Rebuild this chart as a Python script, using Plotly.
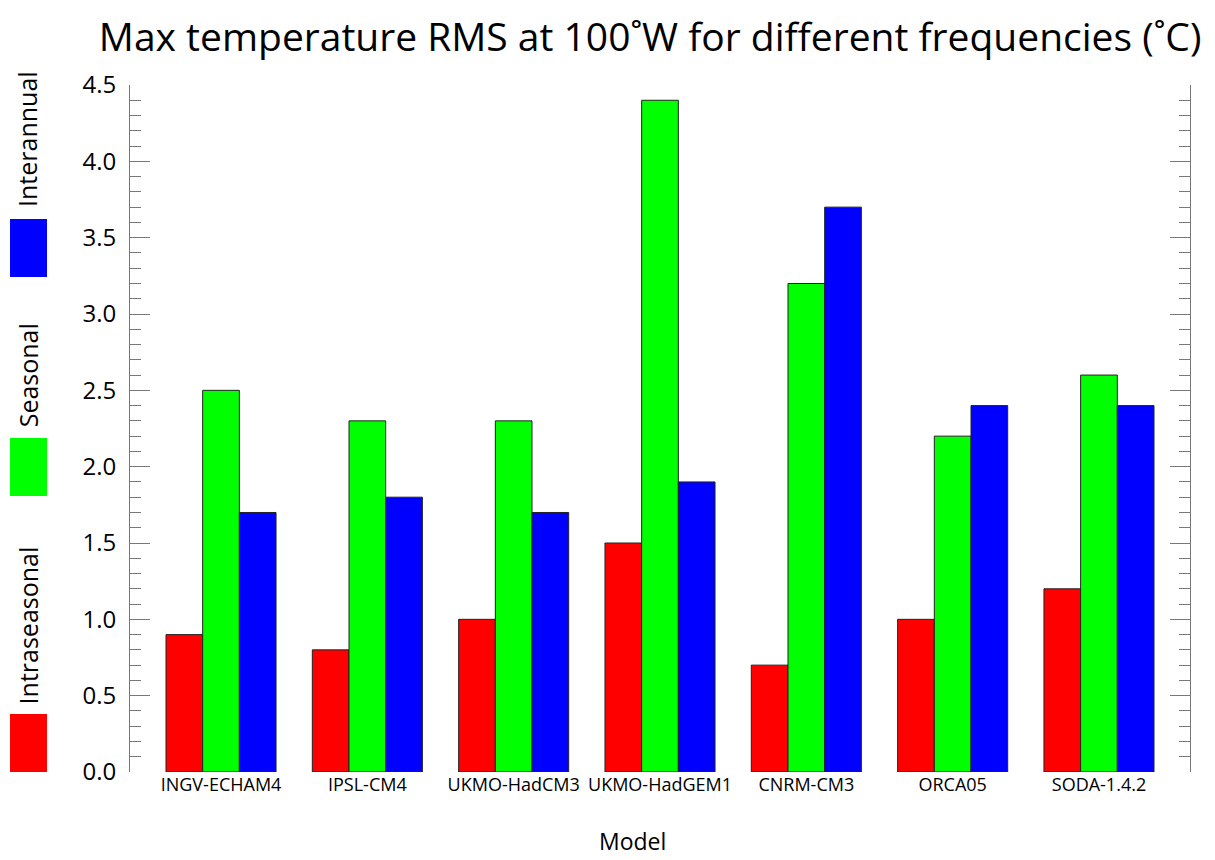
import plotly.graph_objects as go

models = ["INGV-ECHAM4", "IPSL-CM4", "UKMO-HadCM3", "UKMO-HadGEM1", "CNRM-CM3", "ORCA05", "SODA-1.4.2"]
intraseasonal = [0.9, 0.8, 1.0, 1.5, 0.7, 1.0, 1.2]
seasonal = [2.5, 2.3, 2.3, 4.4, 3.2, 2.2, 2.6]
interannual = [1.7, 1.8, 1.7, 1.9, 3.7, 2.4, 2.4]
series_names = ["Intraseasonal", "Seasonal", "Interannual"]
series_colors = ["#FF0000", "#00FF00", "#0000FF"]
y_ticks = [0.0, 0.5, 1.0, 1.5, 2.0, 2.5, 3.0, 3.5, 4.0, 4.5]

FONT = "Open Sans"
fig = go.Figure()
for name, vals, col in zip(series_names, [intraseasonal, seasonal, interannual], series_colors):
    fig.add_trace(go.Bar(x=models, y=vals, name=name, marker=dict(color=col, line=dict(color="#222222", width=1)),
                         showlegend=False))

fig.update_layout(
    width=1207, height=852,
    margin=dict(l=122, r=25, t=77, b=88),
    paper_bgcolor="white", plot_bgcolor="white",
    barmode="group", bargap=0.248, bargroupgap=0,
    font=dict(family=FONT, color="black"),
    title=dict(text="Max temperature RMS at 100˚W for different frequencies (˚C)",
               x=0.532, xanchor="center", y=0.965, yanchor="middle",
               font=dict(family=FONT, size=39, color="black")),
)
fig.update_xaxes(range=[-0.622, 6.622], showline=False, showgrid=False, ticks="",
                 tickangle=0, automargin=False,
                 tickfont=dict(family=FONT, size=18, color="black"), ticklabelstandoff=0)
fig.update_yaxes(range=[0, 4.5], tickvals=y_ticks, tickformat=".1f", showgrid=False, zeroline=False,
                 showline=True, linecolor="#777777", linewidth=1, mirror="ticks", automargin=False,
                 ticks="inside", ticklen=20, tickcolor="#777777", tickwidth=1,
                 minor=dict(dtick=0.1, ticks="inside", ticklen=11, tickcolor="#777777", tickwidth=1, showgrid=False),
                 tickfont=dict(family=FONT, size=24, color="black"), ticklabelstandoff=8)

fig.add_annotation(xref="paper", yref="paper", x=0.4745, y=-0.1, text="Model", showarrow=False,
                   xanchor="center", yanchor="middle", font=dict(family=FONT, size=23, color="black"))

# legend drawn as rotated labels with colour boxes on the left
leg_boxes = [(0.0, 0.0844), (0.4017, 0.486), (0.7205, 0.805)]
leg_text_y = [0.213, 0.577, 0.921]
for (y0, y1), ty, name, col in zip(leg_boxes, leg_text_y, series_names, series_colors):
    fig.add_shape(type="rect", xref="paper", yref="paper", x0=-0.1132, x1=-0.0783, y0=y0, y1=y1,
                  fillcolor=col, line=dict(width=0))
    fig.add_annotation(xref="paper", yref="paper", x=-0.0965, y=ty, text=name, textangle=-90,
                       showarrow=False, xanchor="center", yanchor="middle",
                       font=dict(family=FONT, size=25, color="black"))

fig.write_html("out.html")
